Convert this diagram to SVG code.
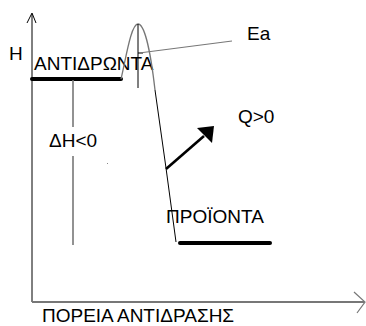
<svg xmlns="http://www.w3.org/2000/svg" width="366" height="326" viewBox="0 0 366 326">
<style>
text{font-family:"Liberation Sans",Arial,sans-serif;font-size:19px;fill:#000}
.thin{stroke:#000;stroke-width:1;fill:none}
.gray{stroke:#777;fill:none}
.level{stroke:#000;stroke-width:4;stroke-linecap:round}
</style>
<rect width="366" height="326" fill="#fff"/>
<g id="axes">
<line class="thin" x1="32" y1="14" x2="32" y2="302"/>
<polyline class="thin" points="27,23 32,13 36,23"/>
<line class="gray" stroke-width="2" x1="32" y1="302" x2="364" y2="302"/>
<polyline class="gray" stroke-width="1.2" points="354,292 365,302 357,313"/>
<text x="9" y="60">H</text>
<text x="42" y="322" font-size="18.6">ΠΟΡΕΙΑ ΑΝΤΙΔΡΑΣΗΣ</text>
</g>
<g id="reactants">
<line class="level" x1="32" y1="79" x2="121" y2="79"/>
<text x="34" y="70" font-size="21">ΑΝΤΙΔΡΩΝΤΑ</text>
</g>
<g id="products">
<line class="level" x1="180" y1="243" x2="270" y2="243"/>
<text x="166" y="223" font-size="20.5">ΠΡΟΪΟΝΤΑ</text>
</g>
<g id="connectors">
<path class="gray" stroke-width="1.3" d="M121,79 C126,58 131,24 138,24 C145,24 151,55 155,90"/>
<polyline class="thin" points="155,90 166,168 176,242"/>
<line class="thin" x1="138" y1="24" x2="138" y2="88"/>
<line class="thin" x1="138" y1="53" x2="143" y2="53"/>
<line class="gray" stroke-width="1.2" x1="139" y1="53" x2="232" y2="41"/>
<line class="gray" stroke-width="1.6" x1="73" y1="80" x2="73" y2="127"/>
<line class="gray" stroke-width="1.6" x1="73" y1="156" x2="73" y2="245"/>
<line stroke="#000" stroke-width="2.6" x1="166" y1="169" x2="204" y2="136"/>
<polygon fill="#000" points="197,128 214,126 212,143 205,136"/>
<rect x="107" y="163" width="1" height="1" fill="#888"/>
</g>
<g id="energy-labels">
<text x="247" y="40" font-size="18.5">Ea</text>
<text x="238" y="123" font-size="19.5">Q&gt;0</text>
<text x="49" y="147">ΔH&lt;0</text>
</g>
</svg>
